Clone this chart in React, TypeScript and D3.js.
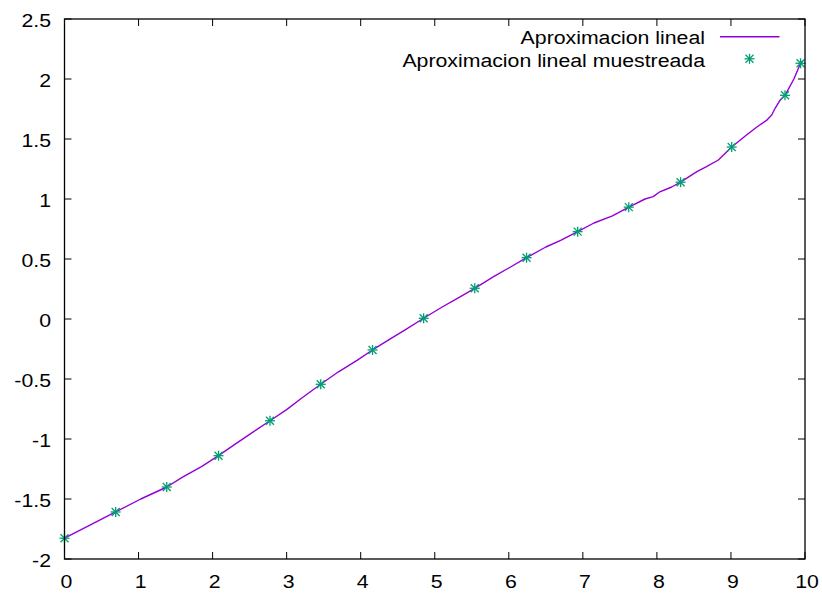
import React from "react";
import * as d3 from "d3";

const lineX = [0, 0.35, 0.69, 1.03, 1.381, 1.6, 1.85, 2.08, 2.3, 2.55, 2.775, 3.0, 3.2, 3.46, 3.7, 3.95, 4.16, 4.4, 4.6, 4.85, 5.1, 5.3, 5.54, 5.8, 6.0, 6.24, 6.5, 6.7, 6.93, 7.15, 7.4, 7.62, 7.84, 7.95, 8.04, 8.2, 8.32, 8.54, 8.67, 8.83, 9.01, 9.21, 9.35, 9.48, 9.55, 9.6, 9.66, 9.73, 9.85, 9.94, 9.97];
const lineY = [-1.827, -1.715, -1.608, -1.5, -1.4, -1.315, -1.23, -1.139, -1.045, -0.94, -0.848, -0.755, -0.66, -0.544, -0.44, -0.345, -0.258, -0.165, -0.09, 0.006, 0.1, 0.17, 0.256, 0.355, 0.425, 0.511, 0.6, 0.655, 0.728, 0.8, 0.86, 0.932, 1.0, 1.02, 1.06, 1.1, 1.14, 1.228, 1.27, 1.325, 1.433, 1.533, 1.6, 1.655, 1.7, 1.76, 1.82, 1.864, 2.0, 2.131, 2.15];

const sampleX = [0, 0.691, 1.381, 2.08, 2.775, 3.46, 4.16, 4.85, 5.54, 6.24, 6.93, 7.62, 8.32, 9.01, 9.73, 9.94];
const sampleY = [-1.827, -1.608, -1.4, -1.139, -0.848, -0.544, -0.258, 0.006, 0.256, 0.511, 0.728, 0.932, 1.14, 1.433, 1.864, 2.131];

const xTicks = [0, 1, 2, 3, 4, 5, 6, 7, 8, 9, 10];
const yTicks = [-2, -1.5, -1, -0.5, 0, 0.5, 1, 1.5, 2, 2.5];

const seriesNames = ["Aproximacion lineal", "Aproximacion lineal muestreada"];

const W = 822, H = 594;
const L = 64.5, R = 805, T = 19, B = 559;
const FS = 19;
const SX = 1.12;
const FONT = "'Liberation Sans', Arial, Helvetica, sans-serif";

function Txt({ x, y, anchor, children }: { x: number; y: number; anchor: string; children: any }) {
  return (
    <text
      transform={`translate(${x},${y}) scale(${SX},1)`}
      textAnchor={anchor}
      fontFamily={FONT}
      fontSize={FS}
      fill="#000"
    >
      {children}
    </text>
  );
}

function Star({ x, y, r = 5 }: { x: number; y: number; r?: number }) {
  const c = "#009e73";
  return (
    <g stroke={c} strokeWidth={1.3}>
      <line x1={x - r} y1={y} x2={x + r} y2={y} />
      <line x1={x} y1={y - r} x2={x} y2={y + r} />
      <line x1={x - r * 0.8} y1={y - r * 0.8} x2={x + r * 0.8} y2={y + r * 0.8} />
      <line x1={x - r * 0.8} y1={y + r * 0.8} x2={x + r * 0.8} y2={y - r * 0.8} />
    </g>
  );
}

export default function App() {
  const x = d3.scaleLinear().domain([0, 10]).range([L, R]);
  const y = d3.scaleLinear().domain([-2, 2.5]).range([B, T]);
  const pts: [number, number][] = lineX.map((v, i) => [v, lineY[i]]);
  const path = d3
    .line<[number, number]>()
    .x((d) => x(d[0]))
    .y((d) => y(d[1]))(pts) as string;
  const tl = 7;
  return (
    <svg width={W} height={H} style={{ position: "absolute", left: 0, top: 0, background: "#fff" }}>
      <rect x={0} y={0} width={W} height={H} fill="#fff" />
      <g stroke="#000" strokeWidth={1}>
        {xTicks.map((t) => (
          <g key={"xt" + t}>
            <line x1={x(t)} x2={x(t)} y1={B} y2={B - tl} />
            <line x1={x(t)} x2={x(t)} y1={T} y2={T + tl} />
          </g>
        ))}
        {yTicks.map((t) => (
          <g key={"yt" + t}>
            <line x1={L} x2={L + tl} y1={y(t)} y2={y(t)} />
            <line x1={R} x2={R - tl} y1={y(t)} y2={y(t)} />
          </g>
        ))}
      </g>
      {xTicks.map((t) => (
        <Txt key={"xl" + t} x={x(t) + 2} y={B + 29} anchor="middle">
          {String(t)}
        </Txt>
      ))}
      {yTicks.map((t) => (
        <Txt key={"yl" + t} x={51} y={y(t) + 7.8} anchor="end">
          {String(t)}
        </Txt>
      ))}
      <path d={path} fill="none" stroke="#9400d3" strokeWidth={1.4} strokeLinejoin="round" />
      {sampleX.map((v, i) => (
        <Star key={"s" + i} x={x(v)} y={y(sampleY[i])} />
      ))}
      <Txt x={705} y={44} anchor="end">{seriesNames[0]}</Txt>
      <line x1={720} x2={779.5} y1={36.7} y2={36.7} stroke="#9400d3" strokeWidth={1.4} />
      <Txt x={705} y={66.7} anchor="end">{seriesNames[1]}</Txt>
      <Star x={749.5} y={58.8} />
      <rect x={L} y={T} width={R - L} height={B - T} fill="none" stroke="#000" strokeWidth={1.3} />
    </svg>
  );
}
